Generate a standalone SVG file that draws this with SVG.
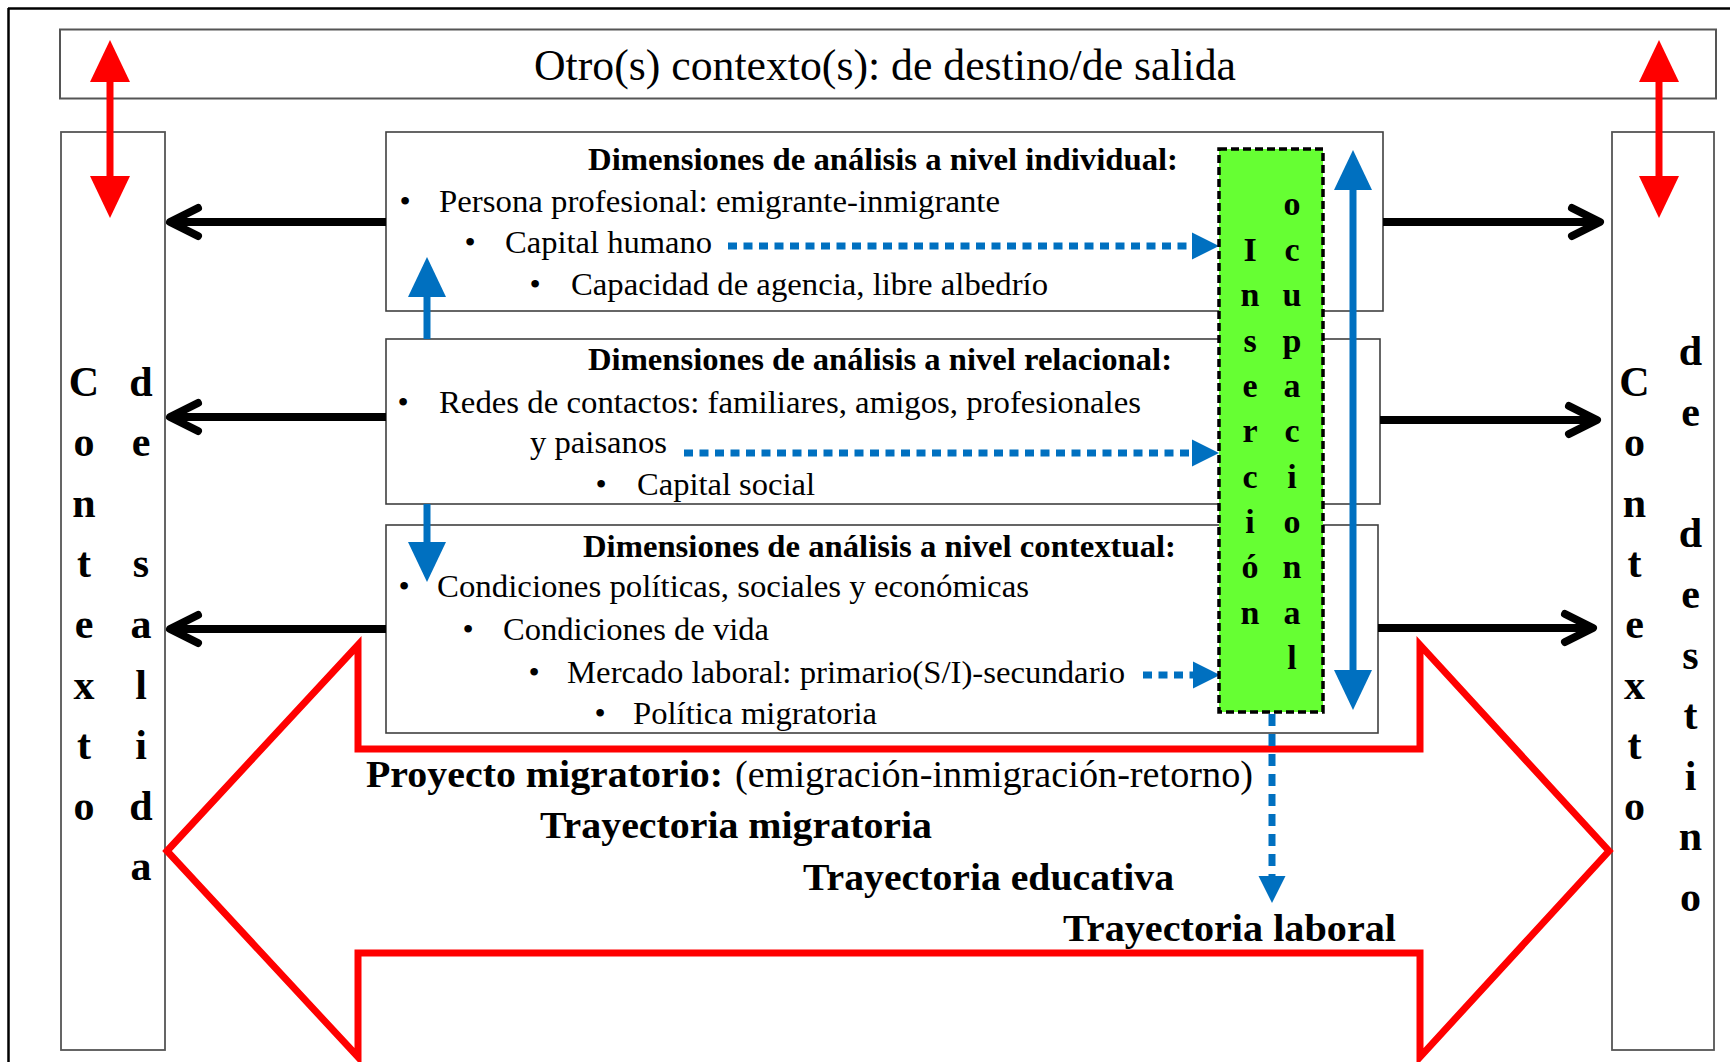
<svg xmlns="http://www.w3.org/2000/svg" width="1730" height="1062" viewBox="0 0 1730 1062">
<style>
text{font-family:"Liberation Serif","Times New Roman",serif;fill:#000}
.b{font-weight:bold}
.box{fill:#fff;stroke:#404040;stroke-width:1.6}
.side{fill:#fff;stroke:#555;stroke-width:1.8}
.blk{stroke:#000;stroke-width:8;fill:none}
.blu{stroke:#0070C0;stroke-width:7;fill:none}
.dot{stroke:#0070C0;stroke-width:7;fill:none;stroke-dasharray:9 6.5}
.red{stroke:#FF0000;stroke-width:7;fill:none}
.t32{font-size:32px}
.t38{font-size:38px}
.col{font-size:42px;font-weight:bold;text-anchor:middle}
.gcol{font-size:34px;font-weight:bold;text-anchor:middle}
.bul{font-size:32px;text-anchor:middle}
</style>
<defs>
<marker id="chev" markerUnits="userSpaceOnUse" orient="auto" refX="0" refY="0" markerWidth="40" markerHeight="40" overflow="visible">
<path d="M-28,-14 L0,0 L-28,14" fill="none" stroke="#000" stroke-width="8" stroke-linecap="round" stroke-linejoin="round"/>
</marker>
<marker id="bhead" markerUnits="userSpaceOnUse" orient="auto-start-reverse" refX="0" refY="19" markerWidth="40" markerHeight="38" overflow="visible">
<path d="M0,0 L40,19 L0,38 Z" fill="#0070C0"/>
</marker>
<marker id="dhead" markerUnits="userSpaceOnUse" orient="auto" refX="0" refY="13.5" markerWidth="27" markerHeight="27" overflow="visible">
<path d="M0,0 L27,13.5 L0,27 Z" fill="#0070C0"/>
</marker>
<marker id="rhead" markerUnits="userSpaceOnUse" orient="auto-start-reverse" refX="0" refY="20" markerWidth="42" markerHeight="40" overflow="visible">
<path d="M0,0 L42,20 L0,40 Z" fill="#FF0000"/>
</marker>
</defs>

<g id="frame">
<line x1="8" y1="8.5" x2="1730" y2="8.5" stroke="#000" stroke-width="2.5"/>
<line x1="8.5" y1="8" x2="8.5" y2="1062" stroke="#000" stroke-width="2.5"/>
</g>

<g id="otros-contextos">
<rect x="60" y="29.5" width="1656" height="69" fill="#fff" stroke="#555" stroke-width="2"/>
<text x="534" y="80" font-size="44" textLength="702" lengthAdjust="spacingAndGlyphs">Otro(s) contexto(s): de destino/de salida</text>
</g>

<g id="contexto-salida">
<rect class="side" x="61" y="132" width="104" height="918"/>
<text class="col">
<tspan x="84" y="395.5">C</tspan><tspan x="84" y="456">o</tspan><tspan x="84" y="516.5">n</tspan><tspan x="84" y="577">t</tspan><tspan x="84" y="638">e</tspan><tspan x="84" y="698.5">x</tspan><tspan x="84" y="759">t</tspan><tspan x="84" y="819.5">o</tspan>
</text>
<text class="col">
<tspan x="141" y="395.5">d</tspan><tspan x="141" y="456">e</tspan><tspan x="141" y="577">s</tspan><tspan x="141" y="638">a</tspan><tspan x="141" y="698.5">l</tspan><tspan x="141" y="759">i</tspan><tspan x="141" y="819.5">d</tspan><tspan x="141" y="880">a</tspan>
</text>
</g>

<g id="contexto-destino">
<rect class="side" x="1612" y="132" width="102" height="918"/>
<text class="col">
<tspan x="1634.5" y="395.5">C</tspan><tspan x="1634.5" y="456">o</tspan><tspan x="1634.5" y="516.5">n</tspan><tspan x="1634.5" y="577">t</tspan><tspan x="1634.5" y="638">e</tspan><tspan x="1634.5" y="698.5">x</tspan><tspan x="1634.5" y="759">t</tspan><tspan x="1634.5" y="819.5">o</tspan>
</text>
<text class="col">
<tspan x="1690.5" y="365">d</tspan><tspan x="1690.5" y="426">e</tspan><tspan x="1690.5" y="547">d</tspan><tspan x="1690.5" y="608">e</tspan><tspan x="1690.5" y="668.5">s</tspan><tspan x="1690.5" y="729">t</tspan><tspan x="1690.5" y="790">i</tspan><tspan x="1690.5" y="850">n</tspan><tspan x="1690.5" y="911">o</tspan>
</text>
</g>

<g id="proyecto-migratorio">
<polygon class="red" points="167,851 358,645 358,749 1420,749 1420,645 1609,851 1420,1057 1420,953 358,953 358,1057"/>
</g>

<g id="nivel-individual">
<rect class="box" x="386" y="132" width="997" height="179"/>
<text class="b t32" x="588" y="170" textLength="590" lengthAdjust="spacingAndGlyphs">Dimensiones de análisis a nivel individual:</text>
<text class="bul" x="405" y="212">•</text>
<text class="t32" x="439" y="212" textLength="561" lengthAdjust="spacingAndGlyphs">Persona profesional: emigrante-inmigrante</text>
<text class="bul" x="470" y="253">•</text>
<text class="t32" x="505" y="253" textLength="207" lengthAdjust="spacingAndGlyphs">Capital humano</text>
<text class="bul" x="535" y="295">•</text>
<text class="t32" x="571" y="295" textLength="477" lengthAdjust="spacingAndGlyphs">Capacidad de agencia, libre albedrío</text>
</g>

<g id="nivel-relacional">
<rect class="box" x="386" y="339" width="994" height="165"/>
<text class="b t32" x="588" y="370" textLength="584" lengthAdjust="spacingAndGlyphs">Dimensiones de análisis a nivel relacional:</text>
<text class="bul" x="403" y="413">•</text>
<text class="t32" x="439" y="413" textLength="702" lengthAdjust="spacingAndGlyphs">Redes de contactos: familiares, amigos, profesionales</text>
<text class="t32" x="530" y="453" textLength="137" lengthAdjust="spacingAndGlyphs">y paisanos</text>
<text class="bul" x="601" y="495">•</text>
<text class="t32" x="637" y="495" textLength="178" lengthAdjust="spacingAndGlyphs">Capital social</text>
</g>

<g id="nivel-contextual">
<rect class="box" x="386" y="525" width="992" height="208"/>
<text class="b t32" x="583" y="557" textLength="593" lengthAdjust="spacingAndGlyphs">Dimensiones de análisis a nivel contextual:</text>
<text class="bul" x="404" y="597">•</text>
<text class="t32" x="437" y="597" textLength="592" lengthAdjust="spacingAndGlyphs">Condiciones políticas, sociales y económicas</text>
<text class="bul" x="468" y="640">•</text>
<text class="t32" x="503" y="640" textLength="266" lengthAdjust="spacingAndGlyphs">Condiciones de vida</text>
<text class="bul" x="534" y="683">•</text>
<text class="t32" x="567" y="683" textLength="558" lengthAdjust="spacingAndGlyphs">Mercado laboral: primario(S/I)-secundario</text>
<text class="bul" x="600" y="724">•</text>
<text class="t32" x="633" y="724" textLength="244" lengthAdjust="spacingAndGlyphs">Política migratoria</text>
</g>

<g id="connectors">
<line class="blk" x1="386" y1="222" x2="170" y2="222" marker-end="url(#chev)"/>
<line class="blk" x1="386" y1="417" x2="170" y2="417" marker-end="url(#chev)"/>
<line class="blk" x1="386" y1="629" x2="170" y2="629" marker-end="url(#chev)"/>
<line class="blk" x1="1383" y1="222" x2="1600" y2="222" marker-end="url(#chev)"/>
<line class="blk" x1="1380" y1="420" x2="1597" y2="420" marker-end="url(#chev)"/>
<line class="blk" x1="1378" y1="628" x2="1593" y2="628" marker-end="url(#chev)"/>
<line class="blu" x1="427" y1="339" x2="427" y2="297" marker-end="url(#bhead)"/>
<line class="blu" x1="427" y1="504" x2="427" y2="542" marker-end="url(#bhead)"/>
<line class="blu" x1="1353" y1="190" x2="1353" y2="670" marker-start="url(#bhead)" marker-end="url(#bhead)"/>
<line class="dot" x1="728" y1="246" x2="1192" y2="246" marker-end="url(#dhead)"/>
<line class="dot" x1="684" y1="453" x2="1192" y2="453" marker-end="url(#dhead)"/>
<line class="dot" x1="1143" y1="675" x2="1193" y2="675" marker-end="url(#dhead)"/>
<line class="dot" x1="1272" y1="714" x2="1272" y2="876" style="stroke-dasharray:12 8" marker-end="url(#dhead)"/>
<line x1="110" y1="82" x2="110" y2="176" stroke="#FF0000" stroke-width="7" marker-start="url(#rhead)" marker-end="url(#rhead)"/>
<line x1="1659" y1="82" x2="1659" y2="176" stroke="#FF0000" stroke-width="7" marker-start="url(#rhead)" marker-end="url(#rhead)"/>
</g>

<g id="insercion-ocupacional">
<rect x="1219" y="149" width="104" height="563" fill="#66FF33" stroke="#000" stroke-width="3.5" stroke-dasharray="8 4"/>
<text class="gcol">
<tspan x="1250" y="260.5">I</tspan><tspan x="1250" y="306">n</tspan><tspan x="1250" y="351.5">s</tspan><tspan x="1250" y="397">e</tspan><tspan x="1250" y="442">r</tspan><tspan x="1250" y="487.5">c</tspan><tspan x="1250" y="533">i</tspan><tspan x="1250" y="578">ó</tspan><tspan x="1250" y="624">n</tspan>
</text>
<text class="gcol">
<tspan x="1292" y="215">o</tspan><tspan x="1292" y="260.5">c</tspan><tspan x="1292" y="306">u</tspan><tspan x="1292" y="351.5">p</tspan><tspan x="1292" y="397">a</tspan><tspan x="1292" y="442">c</tspan><tspan x="1292" y="487.5">i</tspan><tspan x="1292" y="533">o</tspan><tspan x="1292" y="578">n</tspan><tspan x="1292" y="624">a</tspan><tspan x="1292" y="669">l</tspan>
</text>
</g>

<g id="trayectorias">
<text class="t38" x="366" y="787"><tspan class="b" textLength="357" lengthAdjust="spacingAndGlyphs">Proyecto migratorio:</tspan></text>
<text class="t38" x="735" y="787" textLength="518" lengthAdjust="spacingAndGlyphs">(emigración-inmigración-retorno)</text>
<text class="b t38" x="540" y="838" textLength="392" lengthAdjust="spacingAndGlyphs">Trayectoria migratoria</text>
<text class="b t38" x="803" y="890" textLength="371" lengthAdjust="spacingAndGlyphs">Trayectoria educativa</text>
<text class="b t38" x="1063" y="941" textLength="333" lengthAdjust="spacingAndGlyphs">Trayectoria laboral</text>
</g>
</svg>
